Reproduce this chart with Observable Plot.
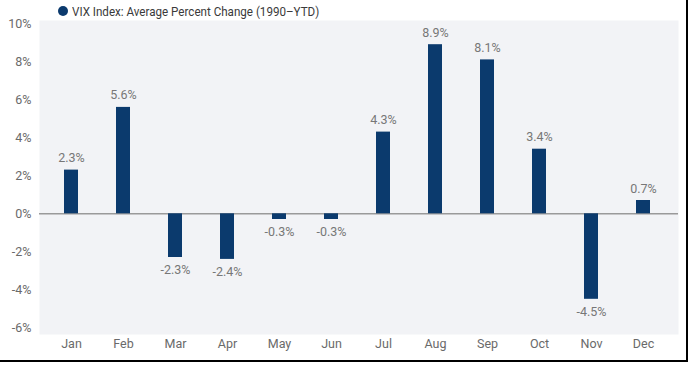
<!DOCTYPE html>
<html>
<head>
<meta charset="utf-8">
<script src="https://cdn.jsdelivr.net/npm/d3@7"></script>
<script src="https://cdn.jsdelivr.net/npm/@observablehq/plot@0.6"></script>
<style>
  html, body { margin: 0; padding: 0; background: #fff; }
  #wrap { position: relative; width: 689px; height: 365px; overflow: hidden; font-family: Roboto, "Liberation Sans", sans-serif; }
  #legend { position: absolute; left: 58px; top: 3px; font-size: 13.5px; color: #3a3a3a; display: flex; align-items: center; white-space: nowrap; }
  #legend .dot { width: 10px; height: 10px; border-radius: 50%; background: #0b3a6d; margin-right: 4px; }
  #legend #legendText { display: inline-block; transform: scaleX(0.86); transform-origin: left center; }
  #chart { position: absolute; left: 0; top: 0; }
  .bRight { position: absolute; left: 686px; top: 0; width: 2px; height: 362px; background: #000; }
  .bBottom { position: absolute; left: 0; top: 360px; width: 688px; height: 2px; background: #000; }
</style>
</head>
<body>
<div id="wrap">
  <div id="chart"></div>
  <div id="legend"><span class="dot"></span><span id="legendText"></span></div>
  <div class="bRight"></div>
  <div class="bBottom"></div>
</div>
<script>
const seriesName = "VIX Index: Average Percent Change (1990–YTD)";
const months = ["Jan","Feb","Mar","Apr","May","Jun","Jul","Aug","Sep","Oct","Nov","Dec"];
const values = [2.3, 5.6, -2.3, -2.4, -0.3, -0.3, 4.3, 8.9, 8.1, 3.4, -4.5, 0.7];
const yTicks = [-6, -4, -2, 0, 2, 4, 6, 8, 10];

const data = months.map((m, i) => ({month: m, value: values[i]}));
const fmt = d => d.value.toFixed(1) + "%";
const barColor = "#0b3a6d";

document.getElementById("legendText").textContent = seriesName;

const chart = Plot.plot({
  width: 689,
  height: 365,
  marginLeft: 39,
  marginRight: 11,
  marginTop: 20,
  marginBottom: 31,
  style: { fontFamily: "Roboto, 'Liberation Sans', sans-serif", fontSize: "12px", color: "#6a6a6a", background: "transparent" },
  x: { domain: months, insetLeft: 4.35, insetRight: 7.15, paddingInner: 0.732, paddingOuter: 0.366, label: null },
  y: { domain: [-6, 10], insetTop: 3.3, insetBottom: 6.7, label: null },
  marks: [
    Plot.frame({ fill: "#f2f3f6", stroke: null }),
    Plot.axisX({ tickSize: 0, tickPadding: 5, fontSize: 12.5, label: null }),
    Plot.axisY({ ticks: yTicks, tickSize: 0, tickPadding: 8, tickFormat: d => d + "%", fontSize: 12.5, label: null }),
    Plot.ruleY([0], { stroke: "#9a9a9a", strokeWidth: 1.5 }),
    Plot.barY(data, { x: "month", y: "value", fill: barColor }),
    Plot.text(data.filter(d => d.value >= 0), { x: "month", y: "value", text: fmt, lineAnchor: "bottom", dy: -8, fill: "#777", fontSize: 12.5 }),
    Plot.text(data.filter(d => d.value < 0), { x: "month", y: "value", text: fmt, lineAnchor: "top", dy: 8, fill: "#777", fontSize: 12.5 })
  ]
});
document.getElementById("chart").appendChild(chart);
</script>
</body>
</html>
